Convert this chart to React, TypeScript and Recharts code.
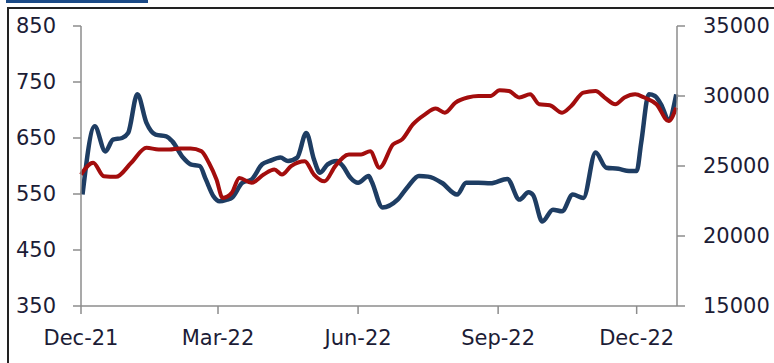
import { LineChart, Line, XAxis, YAxis } from "recharts";

// x values are days counted from 1 Dec 2021
const TICK_DAYS = [0, 90, 182, 274, 365];
const TICK_LABELS = ["Dec-21", "Mar-22", "Jun-22", "Sep-22", "Dec-22"];
const LEFT_TICKS = [350, 450, 550, 650, 750, 850];
const RIGHT_TICKS = [15000, 20000, 25000, 30000, 35000];

const BLUE_DAYS = [
  1, 9, 16, 21, 27, 31, 37, 43, 49, 56, 60, 67, 72, 78, 82, 87, 91, 96, 99, 106,
  112, 119, 124, 131, 136, 142, 148, 153, 157, 162, 168, 172, 177, 182, 189, 191, 198, 208, 215, 222,
  228, 237, 247, 253, 261, 269, 280, 288, 294, 297, 303, 310, 316, 323, 330, 338, 345, 353, 360, 365,
  368, 373, 377, 381, 386, 391,
];
const BLUE_VALUES = [
  549, 671, 626, 647, 650, 659, 728, 677, 656, 653, 644, 615, 603, 600, 576, 546, 537, 540, 543, 570,
  576, 603, 609, 615, 609, 615, 659, 612, 588, 603, 609, 600, 579, 570, 582, 572, 526, 540, 564, 582,
  581, 570, 549, 570, 570, 569, 577, 540, 553, 548, 501, 522, 519, 549, 543, 624, 597, 595, 591, 591,
  642, 728, 725, 710, 683, 728,
];

const RED_DAYS = [
  0, 8, 15, 23, 33, 43, 51, 58, 65, 72, 79, 84, 89, 93, 99, 104, 112, 120, 127, 132,
  138, 147, 153, 160, 167, 176, 184, 190, 196, 205, 211, 218, 226, 233, 239, 246, 254, 261, 269, 275,
  281, 288, 295, 301, 308, 316, 322, 330, 338, 344, 351, 357, 364, 370, 378, 386, 391,
];
const RED_VALUES = [
  24390, 25230, 24270, 24225, 25230, 26300, 26180, 26180, 26250, 26250, 26060, 25230, 24030, 22720, 23080, 24150, 23800, 24390, 24750, 24390,
  24990, 25340, 24390, 23910, 24990, 25820, 25820, 26060, 24870, 26540, 26900, 27970, 28690, 29100, 28810, 29530, 29890, 30000, 30000, 30410,
  30360, 29890, 30120, 29410, 29340, 28810, 29290, 30240, 30360, 29890, 29410, 29890, 30120, 29890, 29410, 28210, 29170,
];

const blueData = BLUE_DAYS.map((d, i) => ({ d, v: BLUE_VALUES[i] }));
const redData = RED_DAYS.map((d, i) => ({ d, v: RED_VALUES[i] }));

const AXIS = "#8c8c8c";
const tickStyle = { fill: "#1c1c36", fontSize: 21, fontFamily: "DejaVu Sans" };

export default function App() {
  return (
    <div style={{ position: "absolute", left: 0, top: 0, width: 774, height: 363, background: "#fff", overflow: "hidden" }}>
      <div style={{ position: "absolute", left: 6, top: 0, width: 142, height: 3, background: "#1b4a87" }} />
      <div style={{ position: "absolute", left: 7, top: 7, width: 780, height: 400, borderLeft: "2px solid #222", borderTop: "2px solid #222" }} />
      <div style={{ position: "absolute", left: 0, top: 0 }}>
        <LineChart width={774} height={363} margin={{ top: 26, right: 0, bottom: 0, left: 0 }}>
          <XAxis
            dataKey="d"
            type="number"
            domain={[0, 391.5]}
            ticks={TICK_DAYS}
            tickFormatter={(d: number) => TICK_LABELS[TICK_DAYS.indexOf(d)]}
            height={57}
            tickSize={8}
            tickMargin={16}
            stroke={AXIS}
            strokeWidth={1.5}
            tick={tickStyle}
            allowDuplicatedCategory={false}
          />
          <YAxis
            yAxisId="left"
            domain={[350, 850]}
            ticks={LEFT_TICKS}
            width={81}
            tickSize={8}
            tickMargin={17}
            stroke={AXIS}
            strokeWidth={1.5}
            tick={tickStyle}
          />
          <YAxis
            yAxisId="right"
            orientation="right"
            domain={[15000, 35000]}
            ticks={RIGHT_TICKS}
            width={97}
            tickSize={8}
            tickMargin={18}
            stroke={AXIS}
            strokeWidth={1.5}
            tick={{ ...tickStyle, textAnchor: "start" }}
          />
          <Line
            yAxisId="left"
            data={blueData}
            dataKey="v"
            type="monotone"
            stroke="#1e3d63"
            strokeWidth={4.5}
            dot={false}
            isAnimationActive={false}
          />
          <Line
            yAxisId="right"
            data={redData}
            dataKey="v"
            type="monotone"
            stroke="#a30d0d"
            strokeWidth={4}
            dot={false}
            isAnimationActive={false}
          />
        </LineChart>
      </div>
    </div>
  );
}
